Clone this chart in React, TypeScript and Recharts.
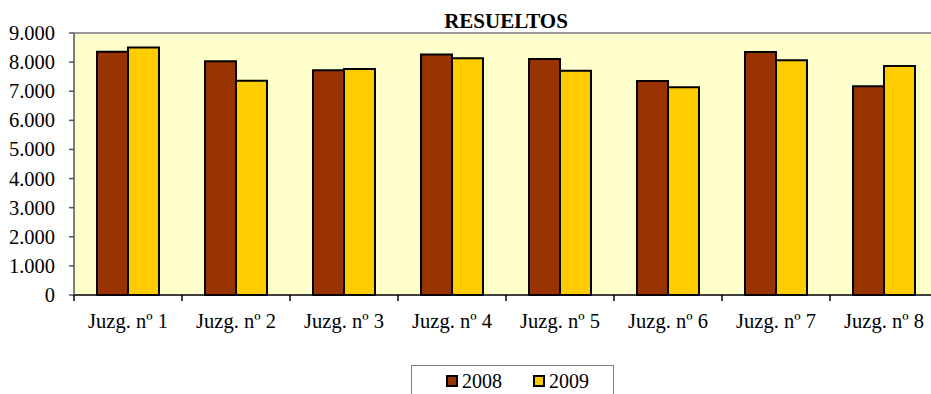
import React from 'react';
import { BarChart, Bar, XAxis, YAxis, CartesianGrid, ReferenceLine, Legend } from 'recharts';

const categories = ['Juzg. nº 1', 'Juzg. nº 2', 'Juzg. nº 3', 'Juzg. nº 4', 'Juzg. nº 5', 'Juzg. nº 6', 'Juzg. nº 7', 'Juzg. nº 8'];
const values2008 = [8360, 8030, 7720, 8260, 8110, 7350, 8350, 7170];
const values2009 = [8500, 7360, 7760, 8130, 7700, 7140, 8060, 7870];
const yTicks = [0, 1000, 2000, 3000, 4000, 5000, 6000, 7000, 8000, 9000];
const seriesNames = ['2008', '2009'];
const seriesColors = ['#993300', '#FFCC00'];
const title = 'RESUELTOS';

const data = categories.map((c, i) => ({ name: c, y2008: values2008[i], y2009: values2009[i] }));

const FONT = "'Liberation Serif', 'Times New Roman', serif";
const CHART_W = 950;
const MARGIN = { top: 33, right: 12, left: 0, bottom: 59 };
const Y_W = 74;
const BAND = (CHART_W - MARGIN.right - MARGIN.left - Y_W) / categories.length;

const fmt = (v: number) => (v === 0 ? '0' : v.toString().replace(/\B(?=(\d{3})+(?!\d))/g, '.'));

const XTick = (props: any) => {
  const { x, y, payload } = props;
  return (
    <g>
      <line x1={x - BAND / 2} x2={x - BAND / 2} y1={y} y2={y + 6} stroke="#000" strokeWidth={1.5} />
      <text x={x} y={y + 33} textAnchor="middle" style={{ fontFamily: FONT, fontSize: 20.5 }} fill="#000">
        {payload.value}
      </text>
    </g>
  );
};

const YTick = (props: any) => {
  const { x, y, payload } = props;
  return (
    <text x={x} y={y} dy={7} textAnchor="end" style={{ fontFamily: FONT, fontSize: 20.5 }} fill="#000">
      {fmt(payload.value)}
    </text>
  );
};

const LegendBox = () => (
  <div
    style={{
      position: 'relative',
      width: 203,
      height: 40,
      boxSizing: 'border-box',
      border: '1px solid #808080',
      background: '#fff',
      fontFamily: FONT,
      fontSize: 20,
    }}
  >
    {seriesNames.map((n, i) => (
      <div key={n} style={{ position: 'absolute', left: 34 + i * 87, top: 3, height: 24, display: 'flex', alignItems: 'center' }}>
        <span style={{ display: 'inline-block', width: 8, height: 8, border: '2px solid #000', background: seriesColors[i], marginRight: 4 }} />
        <span style={{ lineHeight: '24px', color: '#000', fontFamily: FONT, fontSize: 20 }}>{n}</span>
      </div>
    ))}
  </div>
);

export default function App() {
  return (
    <div style={{ position: 'absolute', left: 0, top: 0, width: 931, height: 394, overflow: 'hidden', background: '#fff' }}>
      <svg style={{ position: 'absolute', left: 0, top: 0 }} width={931} height={33}>
        <text x={506} y={28} textAnchor="middle" style={{ fontFamily: FONT, fontWeight: 'bold', fontSize: 21 }} fill="#000">
          {title}
        </text>
      </svg>
      <div style={{ position: 'absolute', left: 0, top: 0 }}>
        <BarChart width={CHART_W} height={394} data={data} margin={MARGIN} barCategoryGap="21.3%" barGap={0}>
          <CartesianGrid horizontal={false} vertical={false} fill="#FFFFCC" />
          <ReferenceLine y={9000} stroke="#999" strokeWidth={2} />
          <XAxis
            dataKey="name"
            height={40}
            tick={<XTick />}
            tickLine={false}
            tickSize={0}
            tickMargin={0}
            stroke="#000"
            strokeWidth={1.5}
            interval={0}
          />
          <YAxis
            width={Y_W}
            domain={[0, 9000]}
            ticks={yTicks}
            tickSize={5}
            tickMargin={14}
            stroke="#555"
            strokeWidth={1.5}
            tick={<YTick />}
            interval={0}
          />
          <Legend
            layout="horizontal"
            verticalAlign="middle"
            align="center"
            content={<LegendBox />}
            wrapperStyle={{ position: 'absolute', left: 411, top: 365, width: 203, height: 40 }}
          />
          <Bar dataKey="y2008" name={seriesNames[0]} fill={seriesColors[0]} stroke="#000" strokeWidth={2} isAnimationActive={false} />
          <Bar dataKey="y2009" name={seriesNames[1]} fill={seriesColors[1]} stroke="#000" strokeWidth={2} isAnimationActive={false} />
        </BarChart>
      </div>
    </div>
  );
}
